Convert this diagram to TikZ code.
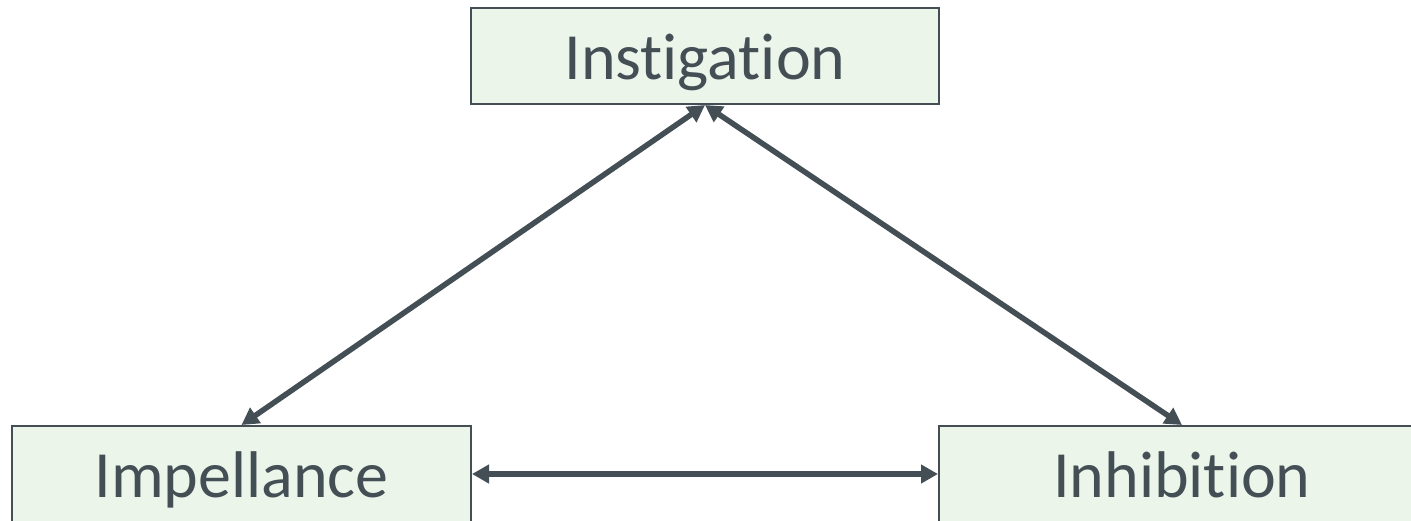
\documentclass[tikz,border=0pt]{standalone}
\usepackage{fontspec}
\setmainfont[Ligatures=NoCommon]{Carlito}
\usetikzlibrary{arrows.meta}
\definecolor{boxfill}{HTML}{EBF5EA}
\definecolor{boxline}{HTML}{444F55}
\definecolor{txt}{HTML}{444F55}
\tikzset{
  conceptbox/.style={draw=boxline, line width=2pt, fill=boxfill, text=txt,
    minimum height=96pt, inner sep=0pt, text height=71.5pt, text depth=24.5pt,
    font=\fontsize{66}{78}\selectfont},
  link/.style={draw=boxline, line width=5.5pt,
    {Triangle[length=17pt,width=18pt]}-{Triangle[length=17pt,width=18pt]}}
}
\begin{document}
\begin{tikzpicture}[x=1pt,y=-1pt]
\clip (0,0) rectangle (1411,520);
\fill[white] (0,0) rectangle (1411,520);
\node[conceptbox, minimum width=468pt] (ins) at (705,56) {Instigation};
\node[conceptbox, minimum width=459pt] (imp) at (241.5,474) {Impellance};
\node[conceptbox, minimum width=486pt] (inh) at (1182,474) {Inhibition};
\draw[link] (ins.south) -- (imp.north);
\draw[link] (ins.south) -- (inh.north);
\draw[link] (imp.east) -- (inh.west);
\end{tikzpicture}
\end{document}
